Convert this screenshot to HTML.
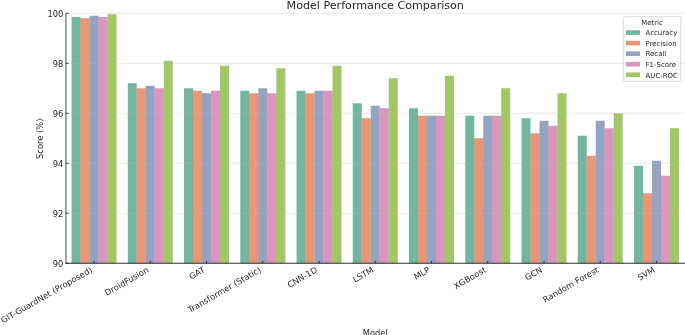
<!DOCTYPE html>
<html><head><meta charset="utf-8"><title>Model Performance Comparison</title>
<style>html,body{margin:0;padding:0;background:#fff}body{width:685px;height:335px;overflow:hidden}svg{display:block}</style>
</head><body>
<svg width="685" height="335" viewBox="0 0 685 335" font-family="'DejaVu Sans', 'Liberation Sans', sans-serif" fill="#262626">
<rect width="685" height="335" fill="#fff"/>
<rect x="80.45" y="18.25" width="0.9" height="245.00" fill="#72b6a1"/>
<rect x="89.45" y="18.25" width="0.9" height="245.00" fill="#e99675"/>
<rect x="98.45" y="17.00" width="0.9" height="246.25" fill="#95a3c3"/>
<rect x="107.45" y="17.00" width="0.9" height="246.25" fill="#db96c0"/>
<rect x="136.70" y="88.25" width="0.9" height="175.00" fill="#72b6a1"/>
<rect x="145.69" y="88.25" width="0.9" height="175.00" fill="#e99675"/>
<rect x="154.69" y="88.25" width="0.9" height="175.00" fill="#95a3c3"/>
<rect x="163.69" y="88.25" width="0.9" height="175.00" fill="#db96c0"/>
<rect x="192.94" y="90.75" width="0.9" height="172.50" fill="#72b6a1"/>
<rect x="201.94" y="93.25" width="0.9" height="170.00" fill="#e99675"/>
<rect x="210.94" y="93.25" width="0.9" height="170.00" fill="#95a3c3"/>
<rect x="219.94" y="90.75" width="0.9" height="172.50" fill="#db96c0"/>
<rect x="249.18" y="93.25" width="0.9" height="170.00" fill="#72b6a1"/>
<rect x="258.18" y="93.25" width="0.9" height="170.00" fill="#e99675"/>
<rect x="267.18" y="93.25" width="0.9" height="170.00" fill="#95a3c3"/>
<rect x="276.18" y="93.25" width="0.9" height="170.00" fill="#db96c0"/>
<rect x="305.42" y="93.25" width="0.9" height="170.00" fill="#72b6a1"/>
<rect x="314.42" y="93.25" width="0.9" height="170.00" fill="#e99675"/>
<rect x="323.42" y="90.75" width="0.9" height="172.50" fill="#95a3c3"/>
<rect x="332.42" y="90.75" width="0.9" height="172.50" fill="#db96c0"/>
<rect x="361.67" y="118.25" width="0.9" height="145.00" fill="#72b6a1"/>
<rect x="370.67" y="118.25" width="0.9" height="145.00" fill="#e99675"/>
<rect x="379.66" y="108.25" width="0.9" height="155.00" fill="#95a3c3"/>
<rect x="388.66" y="108.25" width="0.9" height="155.00" fill="#db96c0"/>
<rect x="417.91" y="115.75" width="0.9" height="147.50" fill="#72b6a1"/>
<rect x="426.91" y="115.75" width="0.9" height="147.50" fill="#e99675"/>
<rect x="435.91" y="115.75" width="0.9" height="147.50" fill="#95a3c3"/>
<rect x="444.91" y="115.75" width="0.9" height="147.50" fill="#db96c0"/>
<rect x="474.15" y="138.25" width="0.9" height="125.00" fill="#72b6a1"/>
<rect x="483.15" y="138.25" width="0.9" height="125.00" fill="#e99675"/>
<rect x="492.15" y="115.75" width="0.9" height="147.50" fill="#95a3c3"/>
<rect x="501.15" y="115.75" width="0.9" height="147.50" fill="#db96c0"/>
<rect x="530.39" y="133.25" width="0.9" height="130.00" fill="#72b6a1"/>
<rect x="539.39" y="133.25" width="0.9" height="130.00" fill="#e99675"/>
<rect x="548.39" y="125.75" width="0.9" height="137.50" fill="#95a3c3"/>
<rect x="557.39" y="125.75" width="0.9" height="137.50" fill="#db96c0"/>
<rect x="586.64" y="155.75" width="0.9" height="107.50" fill="#72b6a1"/>
<rect x="595.64" y="155.75" width="0.9" height="107.50" fill="#e99675"/>
<rect x="604.64" y="128.25" width="0.9" height="135.00" fill="#95a3c3"/>
<rect x="613.63" y="128.25" width="0.9" height="135.00" fill="#db96c0"/>
<rect x="642.88" y="193.25" width="0.9" height="70.00" fill="#72b6a1"/>
<rect x="651.88" y="193.25" width="0.9" height="70.00" fill="#e99675"/>
<rect x="660.88" y="175.75" width="0.9" height="87.50" fill="#95a3c3"/>
<rect x="669.88" y="175.75" width="0.9" height="87.50" fill="#db96c0"/>
<rect x="71.55" y="17.00" width="9.00" height="246.25" fill="#72b6a1"/>
<rect x="80.55" y="18.25" width="9.00" height="245.00" fill="#e99675"/>
<rect x="89.55" y="15.75" width="9.00" height="247.50" fill="#95a3c3"/>
<rect x="98.55" y="17.00" width="9.00" height="246.25" fill="#db96c0"/>
<rect x="107.55" y="14.25" width="9.00" height="249.00" fill="#a2c865"/>
<rect x="127.80" y="83.25" width="9.00" height="180.00" fill="#72b6a1"/>
<rect x="136.80" y="88.25" width="9.00" height="175.00" fill="#e99675"/>
<rect x="145.79" y="85.75" width="9.00" height="177.50" fill="#95a3c3"/>
<rect x="154.79" y="88.25" width="9.00" height="175.00" fill="#db96c0"/>
<rect x="163.79" y="60.75" width="9.00" height="202.50" fill="#a2c865"/>
<rect x="184.04" y="88.25" width="9.00" height="175.00" fill="#72b6a1"/>
<rect x="193.04" y="90.75" width="9.00" height="172.50" fill="#e99675"/>
<rect x="202.04" y="93.25" width="9.00" height="170.00" fill="#95a3c3"/>
<rect x="211.04" y="90.75" width="9.00" height="172.50" fill="#db96c0"/>
<rect x="220.04" y="65.75" width="9.00" height="197.50" fill="#a2c865"/>
<rect x="240.28" y="90.75" width="9.00" height="172.50" fill="#72b6a1"/>
<rect x="249.28" y="93.25" width="9.00" height="170.00" fill="#e99675"/>
<rect x="258.28" y="88.25" width="9.00" height="175.00" fill="#95a3c3"/>
<rect x="267.28" y="93.25" width="9.00" height="170.00" fill="#db96c0"/>
<rect x="276.28" y="68.25" width="9.00" height="195.00" fill="#a2c865"/>
<rect x="296.53" y="90.75" width="9.00" height="172.50" fill="#72b6a1"/>
<rect x="305.52" y="93.25" width="9.00" height="170.00" fill="#e99675"/>
<rect x="314.52" y="90.75" width="9.00" height="172.50" fill="#95a3c3"/>
<rect x="323.52" y="90.75" width="9.00" height="172.50" fill="#db96c0"/>
<rect x="332.52" y="65.75" width="9.00" height="197.50" fill="#a2c865"/>
<rect x="352.77" y="103.25" width="9.00" height="160.00" fill="#72b6a1"/>
<rect x="361.77" y="118.25" width="9.00" height="145.00" fill="#e99675"/>
<rect x="370.77" y="105.75" width="9.00" height="157.50" fill="#95a3c3"/>
<rect x="379.76" y="108.25" width="9.00" height="155.00" fill="#db96c0"/>
<rect x="388.76" y="78.25" width="9.00" height="185.00" fill="#a2c865"/>
<rect x="409.01" y="108.25" width="9.00" height="155.00" fill="#72b6a1"/>
<rect x="418.01" y="115.75" width="9.00" height="147.50" fill="#e99675"/>
<rect x="427.01" y="115.75" width="9.00" height="147.50" fill="#95a3c3"/>
<rect x="436.01" y="115.75" width="9.00" height="147.50" fill="#db96c0"/>
<rect x="445.01" y="75.75" width="9.00" height="187.50" fill="#a2c865"/>
<rect x="465.25" y="115.75" width="9.00" height="147.50" fill="#72b6a1"/>
<rect x="474.25" y="138.25" width="9.00" height="125.00" fill="#e99675"/>
<rect x="483.25" y="115.75" width="9.00" height="147.50" fill="#95a3c3"/>
<rect x="492.25" y="115.75" width="9.00" height="147.50" fill="#db96c0"/>
<rect x="501.25" y="88.25" width="9.00" height="175.00" fill="#a2c865"/>
<rect x="521.50" y="118.25" width="9.00" height="145.00" fill="#72b6a1"/>
<rect x="530.49" y="133.25" width="9.00" height="130.00" fill="#e99675"/>
<rect x="539.49" y="120.75" width="9.00" height="142.50" fill="#95a3c3"/>
<rect x="548.49" y="125.75" width="9.00" height="137.50" fill="#db96c0"/>
<rect x="557.49" y="93.25" width="9.00" height="170.00" fill="#a2c865"/>
<rect x="577.74" y="135.75" width="9.00" height="127.50" fill="#72b6a1"/>
<rect x="586.74" y="155.75" width="9.00" height="107.50" fill="#e99675"/>
<rect x="595.74" y="120.75" width="9.00" height="142.50" fill="#95a3c3"/>
<rect x="604.74" y="128.25" width="9.00" height="135.00" fill="#db96c0"/>
<rect x="613.73" y="113.25" width="9.00" height="150.00" fill="#a2c865"/>
<rect x="633.98" y="165.75" width="9.00" height="97.50" fill="#72b6a1"/>
<rect x="642.98" y="193.25" width="9.00" height="70.00" fill="#e99675"/>
<rect x="651.98" y="160.75" width="9.00" height="102.50" fill="#95a3c3"/>
<rect x="660.98" y="175.75" width="9.00" height="87.50" fill="#db96c0"/>
<rect x="669.98" y="128.25" width="9.00" height="135.00" fill="#a2c865"/>
<line x1="65.93" x2="685" y1="213.25" y2="213.25" stroke="#bcbcbc" stroke-opacity="0.58" stroke-width="0.9" stroke-dasharray="1.3 0.75"/>
<line x1="65.93" x2="685" y1="163.25" y2="163.25" stroke="#bcbcbc" stroke-opacity="0.58" stroke-width="0.9" stroke-dasharray="1.3 0.75"/>
<line x1="65.93" x2="685" y1="113.25" y2="113.25" stroke="#bcbcbc" stroke-opacity="0.58" stroke-width="0.9" stroke-dasharray="1.3 0.75"/>
<line x1="65.93" x2="685" y1="63.25" y2="63.25" stroke="#bcbcbc" stroke-opacity="0.58" stroke-width="0.9" stroke-dasharray="1.3 0.75"/>
<line x1="65.93" x2="685" y1="13.25" y2="13.25" stroke="#bcbcbc" stroke-opacity="0.58" stroke-width="0.9" stroke-dasharray="1.3 0.75"/>
<line x1="65.93" x2="65.93" y1="13.25" y2="263.25" stroke="#1a1a1a" stroke-width="0.8"/>
<line x1="65.53" x2="685" y1="263.25" y2="263.25" stroke="#1a1a1a" stroke-width="0.9"/>
<line x1="65.93" x2="68.73" y1="263.25" y2="263.25" stroke="#1a1a1a" stroke-width="0.75"/>
<text x="63.33" y="267.15" font-size="8.34" text-anchor="end">90</text>
<line x1="65.93" x2="68.73" y1="213.25" y2="213.25" stroke="#1a1a1a" stroke-width="0.75"/>
<text x="63.33" y="217.15" font-size="8.34" text-anchor="end">92</text>
<line x1="65.93" x2="68.73" y1="163.25" y2="163.25" stroke="#1a1a1a" stroke-width="0.75"/>
<text x="63.33" y="167.15" font-size="8.34" text-anchor="end">94</text>
<line x1="65.93" x2="68.73" y1="113.25" y2="113.25" stroke="#1a1a1a" stroke-width="0.75"/>
<text x="63.33" y="117.15" font-size="8.34" text-anchor="end">96</text>
<line x1="65.93" x2="68.73" y1="63.25" y2="63.25" stroke="#1a1a1a" stroke-width="0.75"/>
<text x="63.33" y="67.15" font-size="8.34" text-anchor="end">98</text>
<line x1="65.93" x2="68.73" y1="13.25" y2="13.25" stroke="#1a1a1a" stroke-width="0.75"/>
<text x="63.33" y="17.15" font-size="8.34" text-anchor="end">100</text>
<line x1="94.05" x2="94.05" y1="263.25" y2="260.95" stroke="#1a1a1a" stroke-width="0.75"/>
<text transform="translate(93.05,271.55) rotate(-30)" font-size="8.34" text-anchor="end">GIT-GuardNet (Proposed)</text>
<line x1="150.29" x2="150.29" y1="263.25" y2="260.95" stroke="#1a1a1a" stroke-width="0.75"/>
<text transform="translate(149.29,271.55) rotate(-30)" font-size="8.34" text-anchor="end">DroidFusion</text>
<line x1="206.54" x2="206.54" y1="263.25" y2="260.95" stroke="#1a1a1a" stroke-width="0.75"/>
<text transform="translate(205.54,271.55) rotate(-30)" font-size="8.34" text-anchor="end">GAT</text>
<line x1="262.78" x2="262.78" y1="263.25" y2="260.95" stroke="#1a1a1a" stroke-width="0.75"/>
<text transform="translate(261.78,271.55) rotate(-30)" font-size="8.34" text-anchor="end">Transformer (Static)</text>
<line x1="319.02" x2="319.02" y1="263.25" y2="260.95" stroke="#1a1a1a" stroke-width="0.75"/>
<text transform="translate(318.02,271.55) rotate(-30)" font-size="8.34" text-anchor="end">CNN-1D</text>
<line x1="375.27" x2="375.27" y1="263.25" y2="260.95" stroke="#1a1a1a" stroke-width="0.75"/>
<text transform="translate(374.27,271.55) rotate(-30)" font-size="8.34" text-anchor="end">LSTM</text>
<line x1="431.51" x2="431.51" y1="263.25" y2="260.95" stroke="#1a1a1a" stroke-width="0.75"/>
<text transform="translate(430.51,271.55) rotate(-30)" font-size="8.34" text-anchor="end">MLP</text>
<line x1="487.75" x2="487.75" y1="263.25" y2="260.95" stroke="#1a1a1a" stroke-width="0.75"/>
<text transform="translate(486.75,271.55) rotate(-30)" font-size="8.34" text-anchor="end">XGBoost</text>
<line x1="543.99" x2="543.99" y1="263.25" y2="260.95" stroke="#1a1a1a" stroke-width="0.75"/>
<text transform="translate(542.99,271.55) rotate(-30)" font-size="8.34" text-anchor="end">GCN</text>
<line x1="600.24" x2="600.24" y1="263.25" y2="260.95" stroke="#1a1a1a" stroke-width="0.75"/>
<text transform="translate(599.24,271.55) rotate(-30)" font-size="8.34" text-anchor="end">Random Forest</text>
<line x1="656.48" x2="656.48" y1="263.25" y2="260.95" stroke="#1a1a1a" stroke-width="0.75"/>
<text transform="translate(655.48,271.55) rotate(-30)" font-size="8.34" text-anchor="end">SVM</text>
<text x="375.26" y="335.5" font-size="8.34" text-anchor="middle">Model</text>
<text transform="translate(43.3,138.75) rotate(-90)" font-size="8.34" text-anchor="middle">Score (%)</text>
<text x="375.26" y="8.9" font-size="11.12" text-anchor="middle">Model Performance Comparison</text>
<rect x="623.4" y="16.7" width="57.30" height="64.50" rx="1.4" fill="#fff" fill-opacity="0.9" stroke="#ccc" stroke-width="0.7"/>
<text x="652.05" y="24.9" font-size="6.95" text-anchor="middle">Metric</text>
<rect x="626.0" y="30.30" width="14.0" height="4.6" fill="#72b6a1"/>
<text x="645.6" y="35.40" font-size="6.95">Accuracy</text>
<rect x="626.0" y="40.83" width="14.0" height="4.6" fill="#e99675"/>
<text x="645.6" y="45.93" font-size="6.95">Precision</text>
<rect x="626.0" y="51.36" width="14.0" height="4.6" fill="#95a3c3"/>
<text x="645.6" y="56.46" font-size="6.95">Recall</text>
<rect x="626.0" y="61.89" width="14.0" height="4.6" fill="#db96c0"/>
<text x="645.6" y="66.99" font-size="6.95">F1-Score</text>
<rect x="626.0" y="72.42" width="14.0" height="4.6" fill="#a2c865"/>
<text x="645.6" y="77.52" font-size="6.95">AUC-ROC</text>
</svg>
</body></html>
